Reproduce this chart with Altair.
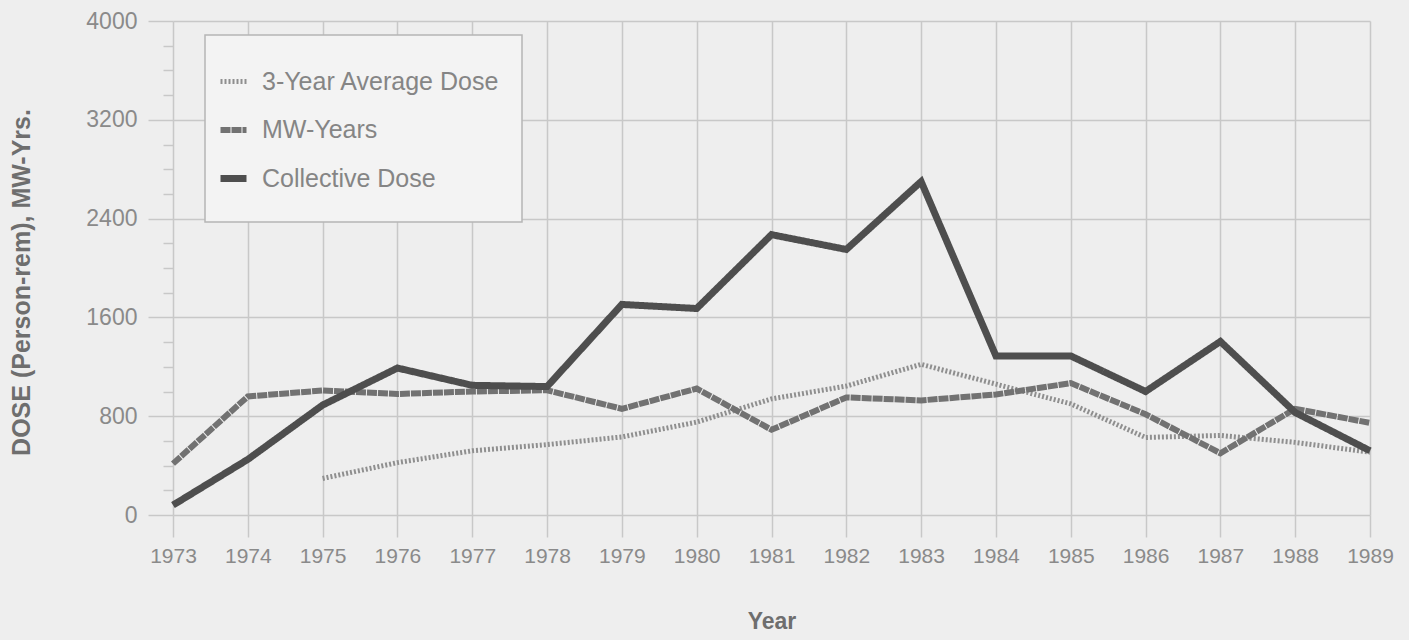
import altair as alt
import pandas as pd

years = list(range(1973, 1990))
collective_dose = [80, 450, 890, 1190, 1050, 1040, 1705, 1672, 2270, 2150, 2700, 1288, 1288, 1000, 1405, 830, 520]
mw_years = [416, 960, 1008, 980, 1000, 1010, 860, 1024, 690, 952, 928, 976, 1068, 816, 500, 860, 746]
avg_3yr = [None, None, 296, 424, 520, 570, 632, 752, 940, 1044, 1220, 1060, 900, 628, 644, 588, 508]

series_names = ["3-Year Average Dose", "MW-Years", "Collective Dose"]
y_ticks = list(range(0, 4001, 200))

rows = []
for name, vals in zip(series_names, [avg_3yr, mw_years, collective_dose]):
    for yr, v in zip(years, vals):
        if v is not None:
            rows.append({"Year": yr, "Value": v, "Series": name})
df = pd.DataFrame(rows)

leg = alt.Legend(
    title=None, orient="none", legendX=44, legendY=45, padding=0,
    symbolType="stroke", symbolSize=676, symbolStrokeWidth=6,
    labelFontSize=25, labelFont="Liberation Sans", labelColor="#858585",
    labelOffset=12, rowPadding=19, labelLimit=0,
)

box = alt.Chart(pd.DataFrame({"k": [0]})).mark_rect(
    fill="#f3f3f3", stroke="#b5b5b5", strokeWidth=1.5
).encode(
    x=alt.value(32), x2=alt.value(349), y=alt.value(14), y2=alt.value(201)
)

lines = alt.Chart(df).mark_line(strokeJoin="miter").encode(
    x=alt.X("Year:Q", scale=alt.Scale(domain=[1973, 1989], nice=False, zero=False),
            axis=alt.Axis(values=years, format="d", title="Year", tickSize=22,
                          labelPadding=8, labelFont="Liberation Sans", labelFlush=False,
                          labelFontSize=21, titleFontSize=23, titleFontWeight="bold",
                          titleFont="Liberation Sans", titleColor="#6e6e6e",
                          titleBaseline="alphabetic", titleY=113)),
    y=alt.Y("Value:Q", scale=alt.Scale(domain=[0, 4000], nice=False),
            axis=alt.Axis(values=y_ticks, format="d", title="DOSE (Person-rem), MW-Yrs.",
                          labelExpr="datum.value % 800 === 0 ? datum.label : ''",
                          tickSize={"condition": {"test": "datum.value % 800 === 0", "value": 25}, "value": 10},
                          gridOpacity={"condition": {"test": "datum.value % 800 === 0", "value": 1}, "value": 0},
                          labelPadding=11, labelFont="Liberation Sans", labelFontSize=23,
                          titleFontSize=25, titleFontWeight="bold", titleFont="Liberation Sans",
                          titleColor="#6e6e6e", titleX=-152, titleY=261, titleAngle=270,
                          titleAlign="center", titleBaseline="middle")),
    color=alt.Color("Series:N", scale=alt.Scale(domain=series_names,
                    range=["#8f8f8f", "#727272", "#4e4e4e"]), legend=leg),
    strokeDash=alt.StrokeDash("Series:N", scale=alt.Scale(domain=series_names,
                    range=[[2, 2], [10, 1], [1, 0]]), legend=leg),
    strokeWidth=alt.StrokeWidth("Series:N", scale=alt.Scale(domain=series_names,
                    range=[5, 7, 8]), legend=leg),
    order=alt.Order("Year:Q"),
)

chart = alt.layer(box, lines).properties(
    width=1197, height=494,
    autosize=alt.AutoSizeParams(type="none"),
    padding={"left": 165, "top": 13, "right": 31, "bottom": 122},
    background="#eeeeee",
).configure_view(stroke=None).configure_axis(
    domain=False, gridColor="#c8c8c8", gridWidth=1.5, tickColor="#c8c8c8", tickWidth=1.5,
    labelColor="#8a8a8a",
)

chart.save("out.html", embed_options={"renderer": "svg", "actions": False})

with open("out.html", "r", encoding="utf-8") as f:
    html = f.read()
html = html.replace("<head>", "<head>\n<style>html, body { background: #eeeeee; }</style>", 1)
with open("out.html", "w", encoding="utf-8") as f:
    f.write(html)
